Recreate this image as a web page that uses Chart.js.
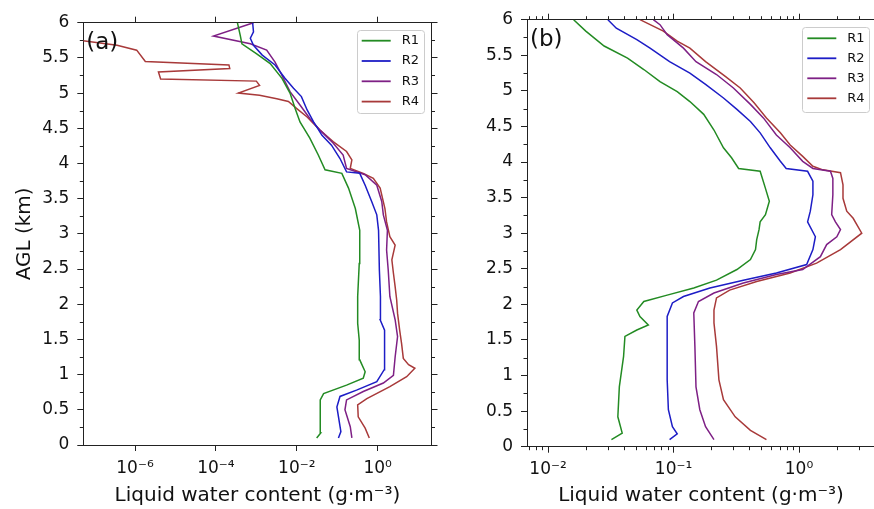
<!DOCTYPE html>
<html lang="en">
<head>
<meta charset="UTF-8">
<title>Liquid water content profiles</title>
<script src="https://cdn.jsdelivr.net/npm/chart.js"></script>
<style>
    body {
        margin: 0;
        background: #ffffff;
        width: 874px;
        height: 509px;
        overflow: hidden;
        position: relative;
    }
    canvas { position: absolute; top: 0; }
    #chartA { left: 0; }
    #chartB { left: 440px; }
</style>
</head>
<body>
<canvas id="chartA" width="450" height="509"></canvas>
<canvas id="chartB" width="440" height="509"></canvas>
<script>
// series names and colours
const seriesNames = ['R1', 'R2', 'R3', 'R4'];
const seriesColors = ['#238b23', '#1d1dc6', '#7e2085', '#a83a3a'];

// panel (a): height (km) and liquid water content (g/m3)
const aKmR1 = [0.10,0.17,0.64,0.73,0.85,0.95,1.04,1.21,1.49,1.73,2.11,2.58,3.05,3.36,3.65,3.86,3.91,4.12,4.36,4.59,4.78,5.00,5.21,5.42,5.56,5.70,5.82,6.00];
const aLwcR1 = [0.031,0.039,0.038,0.046,0.17,0.44,0.49,0.36,0.35,0.32,0.32,0.35,0.36,0.28,0.19,0.13,0.050,0.034,0.021,0.012,0.0091,0.0068,0.0043,0.0022,0.0010,0.00044,0.00040,0.00034];

const aKmR2 = [0.10,0.19,0.54,0.69,0.78,0.90,1.07,1.35,1.63,1.78,2.11,2.49,3.05,3.27,3.46,3.69,3.86,3.88,4.07,4.26,4.40,4.59,4.76,4.95,5.07,5.21,5.40,5.54,5.68,5.78,5.87,6.00];
const aLwcR2 = [0.107,0.123,0.098,0.117,0.30,0.95,1.45,1.51,1.45,1.15,1.17,1.10,1.05,0.95,0.71,0.49,0.36,0.17,0.117,0.072,0.042,0.026,0.018,0.013,0.0083,0.0051,0.0029,0.0014,0.00085,0.00071,0.00085,0.00081];

const aKmR3 = [0.10,0.26,0.50,0.64,0.76,0.88,0.99,1.25,1.54,1.78,2.11,2.49,2.77,3.05,3.27,3.46,3.69,3.84,3.93,4.12,4.29,4.47,4.64,4.83,5.02,5.30,5.44,5.61,5.70,5.81,6.00];
const aLwcR3 = [0.23,0.21,0.155,0.17,0.44,1.38,2.45,2.7,3.1,2.7,2.0,1.82,1.66,1.74,1.38,1.26,0.95,0.49,0.17,0.14,0.079,0.038,0.021,0.012,0.0068,0.0039,0.0029,0.0018,0.00071,0.000087,0.00085];

const aKmR4 = [0.10,0.24,0.40,0.57,0.66,0.83,0.97,1.09,1.14,1.23,1.44,1.63,1.87,2.06,2.25,2.44,2.63,2.84,2.96,3.17,3.36,3.65,3.79,3.86,3.93,4.05,4.17,4.31,4.47,4.66,4.78,4.88,4.92,4.97,5.00,5.11,5.17,5.20,5.30,5.35,5.40,5.45,5.61,5.68,5.76];
const aLwcR4 = [0.62,0.49,0.33,0.32,0.54,2.0,5.2,8.3,5.8,4.3,3.9,3.5,3.1,2.95,2.7,2.45,2.24,2.7,2.0,1.66,1.51,1.15,0.78,0.44,0.21,0.23,0.17,0.079,0.038,0.018,0.010,0.0062,0.0032,0.0012,0.00036,0.0012,0.0010,0.0000043,0.0000038,0.00022,0.00021,0.0000018,0.0000011,0.00000036,0.00000003];

// panel (b)
const bKmR1 = [0.10,0.19,0.42,0.84,1.27,1.55,1.64,1.71,1.83,1.92,2.04,2.13,2.23,2.34,2.49,2.63,2.77,2.91,3.05,3.16,3.26,3.45,3.63,3.87,3.91,4.06,4.20,4.45,4.67,4.85,4.99,5.13,5.30,5.46,5.63,5.84,6.00];
const bLwcR1 = [0.032,0.039,0.036,0.037,0.040,0.041,0.051,0.063,0.054,0.051,0.058,0.089,0.145,0.22,0.32,0.41,0.45,0.46,0.48,0.49,0.54,0.58,0.54,0.49,0.33,0.29,0.25,0.21,0.174,0.135,0.107,0.078,0.058,0.043,0.028,0.020,0.016];

const bKmR2 = [0.10,0.18,0.28,0.52,0.94,1.41,1.83,2.02,2.11,2.23,2.34,2.44,2.56,2.77,2.95,3.16,3.31,3.54,3.73,3.87,3.91,4.01,4.20,4.41,4.57,4.74,4.90,5.09,5.25,5.41,5.60,5.72,5.88,6.00];
const bLwcR2 = [0.093,0.107,0.098,0.091,0.089,0.089,0.089,0.098,0.12,0.195,0.36,0.66,1.15,1.29,1.35,1.17,1.23,1.29,1.29,1.17,0.79,0.71,0.59,0.49,0.41,0.32,0.25,0.18,0.135,0.093,0.065,0.051,0.035,0.030];

const bKmR3 = [0.10,0.28,0.52,0.84,1.41,1.88,2.04,2.16,2.30,2.42,2.49,2.67,2.84,2.95,3.05,3.16,3.26,3.54,3.77,3.87,3.91,4.01,4.20,4.38,4.62,4.81,5.04,5.23,5.41,5.60,5.79,5.93,6.00];
const bLwcR3 = [0.21,0.18,0.162,0.151,0.148,0.145,0.158,0.21,0.36,0.66,1.07,1.48,1.66,2.0,2.14,1.95,1.82,1.86,1.86,1.78,1.29,1.07,0.85,0.66,0.52,0.41,0.30,0.22,0.151,0.12,0.089,0.078,0.069];

const bKmR4 = [0.10,0.23,0.42,0.66,0.94,1.41,1.74,1.92,2.09,2.20,2.32,2.44,2.58,2.77,3.00,3.21,3.31,3.49,3.68,3.85,3.89,3.94,4.08,4.24,4.41,4.62,4.83,5.04,5.20,5.41,5.60,5.70,5.84,6.00];
const bLwcR4 = [0.55,0.41,0.31,0.25,0.23,0.22,0.21,0.21,0.22,0.28,0.46,0.85,1.38,2.14,3.16,2.7,2.4,2.24,2.24,2.14,1.55,1.29,1.07,0.85,0.71,0.55,0.44,0.34,0.26,0.18,0.135,0.107,0.083,0.054];

// tick values
const yTicks = [0,0.5,1,1.5,2,2.5,3,3.5,4,4.5,5,5.5,6];
const yMinor = [0.25,0.75,1.25,1.75,2.25,2.75,3.25,3.75,4.25,4.75,5.25,5.75];
const aXTicks = [1e-6, 1e-4, 1e-2, 1];
const bXTicks = [0.01, 0.1, 1];
const bXMinor = [0.007,0.008,0.009,0.02,0.03,0.04,0.05,0.06,0.07,0.08,0.09,0.2,0.3,0.4,0.5,0.6,0.7,0.8,0.9,2,3];

Chart.defaults.font.family = '"DejaVu Sans", sans-serif';
Chart.defaults.color = '#111';

const supMap = {'-': '⁻', '0': '⁰', '1': '¹', '2': '²', '3': '³', '4': '⁴', '5': '⁵', '6': '⁶', '7': '⁷', '8': '⁸', '9': '⁹'};
function powLabel(v) {
    const e = String(Math.round(Math.log10(v)));
    return '10' + e.split('').map(c => supMap[c]).join('');
}

function profile(km, lwc) {
    return km.map((h, i) => ({x: lwc[i], y: h}));
}

// minor ticks, panel letter and legend box
const extras = {
    id: 'extras',
    afterDraw(chart, args, opts) {
        const ctx = chart.ctx;
        const area = chart.chartArea;
        const xs = chart.scales.x, ys = chart.scales.y;
        ctx.save();
        ctx.strokeStyle = '#222';
        ctx.lineWidth = 1;
        ctx.beginPath();
        opts.yMinor.forEach(v => {
            const py = Math.round(ys.getPixelForValue(v)) + 0.5;
            ctx.moveTo(area.left, py); ctx.lineTo(area.left - 3.5, py);
            ctx.moveTo(area.right, py); ctx.lineTo(area.right + 3.5, py);
        });
        opts.xMinor.forEach(v => {
            const px = Math.round(xs.getPixelForValue(v)) + 0.5;
            ctx.moveTo(px, area.bottom); ctx.lineTo(px, area.bottom + 3.5);
            ctx.moveTo(px, area.top); ctx.lineTo(px, area.top - 3.5);
        });
        ctx.stroke();

        ctx.fillStyle = '#111';
        ctx.font = '23px "DejaVu Sans"';
        ctx.textBaseline = 'middle';
        ctx.textAlign = 'left';
        ctx.fillText(opts.letter, area.left + 3, area.top + 20);

        const lg = opts.legend;
        const bx = area.right - lg.dx, by = area.top + lg.dy;
        ctx.fillStyle = 'rgba(255,255,255,0.85)';
        ctx.strokeStyle = '#cccccc';
        ctx.beginPath();
        ctx.roundRect(Math.round(bx) + 0.5, Math.round(by) + 0.5, lg.w, lg.h, 3);
        ctx.fill();
        ctx.stroke();
        ctx.font = '13px "DejaVu Sans"';
        chart.data.datasets.forEach((ds, i) => {
            const ry = by + lg.first + i * lg.step;
            ctx.strokeStyle = ds.borderColor;
            ctx.lineWidth = 1.8;
            ctx.beginPath();
            ctx.moveTo(bx + 5, ry);
            ctx.lineTo(bx + 34, ry);
            ctx.stroke();
            ctx.fillStyle = '#111';
            ctx.fillText(ds.label, bx + 45, ry);
        });
        ctx.restore();
    }
};

function makePanel(id, series, p) {
    const gridOpts = {drawOnChartArea: false, tickLength: 6, tickColor: '#222', tickWidth: 1};
    const borderOpts = {color: '#222', width: 1};
    const setXTicks = s => { s.ticks = p.xTicks.map(v => ({value: v})); };
    return new Chart(document.getElementById(id), {
        type: 'scatter',
        data: {
            datasets: series.map((s, i) => ({
                label: seriesNames[i],
                data: profile(s[0], s[1]),
                showLine: true,
                borderColor: seriesColors[i],
                backgroundColor: seriesColors[i],
                borderWidth: 1.5,
                pointRadius: 0,
                tension: 0
            }))
        },
        options: {
            responsive: false,
            animation: false,
            layout: {padding: 0},
            plugins: {
                legend: {display: false},
                tooltip: {enabled: false},
                extras: {letter: p.letter, legend: p.legend, yMinor: yMinor, xMinor: p.xMinor}
            },
            scales: {
                x: {
                    type: 'logarithmic', position: 'bottom', min: p.xMin, max: p.xMax,
                    afterBuildTicks: setXTicks,
                    afterFit: s => { s.height = p.bottom; },
                    grid: gridOpts, border: borderOpts,
                    ticks: {font: {size: 17}, padding: 7, autoSkip: false, maxRotation: 0, callback: v => powLabel(v)},
                    title: {display: true, text: 'Liquid water content (g·m⁻³)', font: {size: 20}, padding: {top: 0, bottom: 1}}
                },
                xTop: {
                    type: 'logarithmic', axis: 'x', position: 'top', min: p.xMin, max: p.xMax,
                    afterBuildTicks: setXTicks,
                    afterFit: s => { s.height = p.top; },
                    grid: gridOpts, border: borderOpts,
                    ticks: {display: false}
                },
                y: {
                    type: 'linear', position: 'left', min: 0, max: 6,
                    afterBuildTicks: s => { s.ticks = yTicks.map(v => ({value: v})); },
                    afterFit: s => { s.width = p.left; },
                    grid: gridOpts, border: borderOpts,
                    ticks: {font: {size: 17}, padding: 8, autoSkip: false, callback: v => String(v)},
                    title: {display: p.yTitle, text: 'AGL (km)', font: {size: 20}, padding: {top: 13, bottom: 0}}
                },
                yRight: {
                    type: 'linear', axis: 'y', position: 'right', min: 0, max: 6,
                    afterBuildTicks: s => { s.ticks = yTicks.map(v => ({value: v})); },
                    afterFit: s => { s.width = p.right; },
                    grid: gridOpts, border: borderOpts,
                    ticks: {display: false}
                }
            }
        },
        plugins: [extras]
    });
}

makePanel('chartA', [[aKmR1, aLwcR1], [aKmR2, aLwcR2], [aKmR3, aLwcR3], [aKmR4, aLwcR4]], {
    xMin: 5.27e-8, xMax: 21.4, xTicks: aXTicks, xMinor: [],
    left: 83.3, right: 18.5, top: 22.7, bottom: 64,
    yTitle: true, letter: '(a)',
    legend: {dx: 74.8, dy: 7.3, w: 67, h: 83, first: 10.7, step: 20.3}
});

makePanel('chartB', [[bKmR1, bLwcR1], [bKmR2, bLwcR2], [bKmR3, bLwcR3], [bKmR4, bLwcR4]], {
    xMin: 0.0068, xMax: 4.03, xTicks: bXTicks, xMinor: bXMinor,
    left: 87, right: 5, top: 19.7, bottom: 62.3,
    yTitle: false, letter: '(b)',
    legend: {dx: 72.7, dy: 7, w: 67, h: 85, first: 11.6, step: 20}
});
</script>
</body>
</html>
